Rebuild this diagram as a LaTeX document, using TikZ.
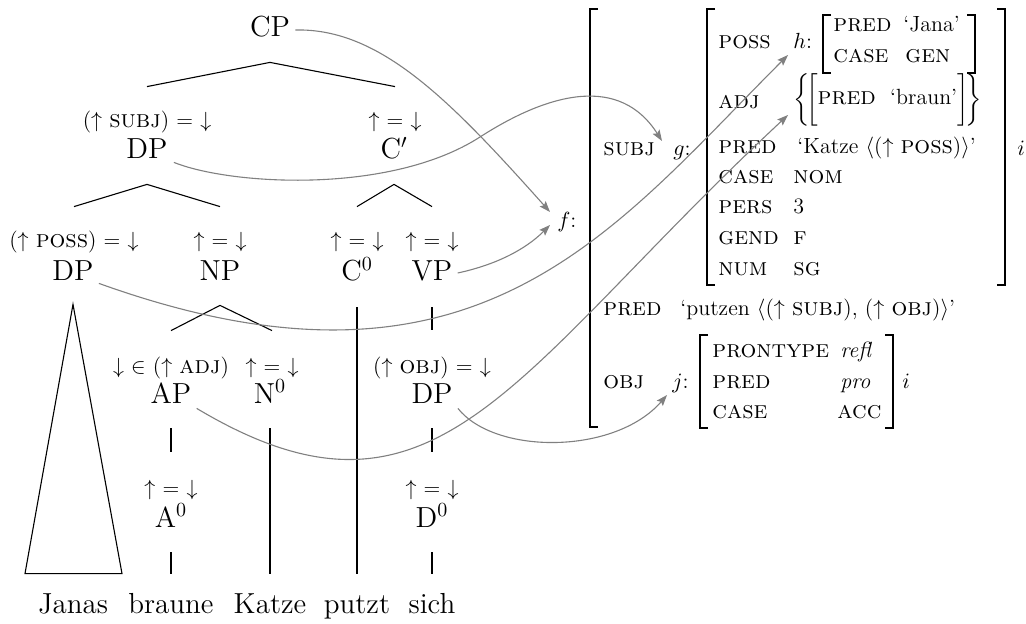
\documentclass[tikz,border=0pt]{standalone}
\usepackage{amsmath}
\usepackage{fontspec}
\usetikzlibrary{arrows.meta,calc}
\tikzset{
  cat/.style={font=\fontsize{14.5}{17}\selectfont, inner sep=0pt, text height=10pt, text depth=0pt, anchor=base},
  ann/.style={font=\fontsize{11}{13}\selectfont, inner sep=0pt, text height=8pt, text depth=2.5pt, anchor=base},
  word/.style={font=\fontsize{14.5}{17}\selectfont, inner sep=0pt, text height=10pt, text depth=3pt, anchor=base},
  avm/.style={font=\fontsize{11}{13}\selectfont, inner sep=0pt, anchor=base west},
  treeline/.style={line width=0.55pt},
  brk/.style={line width=1pt, line join=miter},
  fslink/.style={draw=gray, line width=0.55pt, -{Stealth[length=5.5pt,width=4pt,inset=1pt]}},
}
\newcommand{\fs}[1]{{\fontsize{12.4}{13}\selectfont\scshape #1}}
\newcommand{\up}{\ensuremath{\uparrow}}
\newcommand{\dn}{\ensuremath{\downarrow}}
\newcommand{\ueqd}{\up{} = \dn}
\begin{document}
\begin{tikzpicture}[x=0.5pt,y=-0.5pt]
\useasboundingbox (0,0) rectangle (1026,624);
% ---------- tree ----------
\node[cat] (cp) at (270,37) {CP};
\node[ann] (a-dp1) at (147,128) {(\up\ \fs{subj}) = \dn};
\node[cat] (dp1) at (147,159) {DP};
\node[ann] (a-cb) at (395,128) {\ueqd};
\node[cat] (cb) at (394,159) {C$'$};
\node[ann] (a-dp2) at (74,248) {(\up\ \fs{poss}) = \dn};
\node[cat] (dp2) at (73,281) {DP};
\node[ann] (a-np) at (220,248) {\ueqd};
\node[cat] (np) at (220,281) {NP};
\node[ann] (a-c0) at (357,248) {\ueqd};
\node[cat] (c0) at (357,281) {C$^0$};
\node[ann] (a-vp) at (432,248) {\ueqd};
\node[cat] (vp) at (432,281) {VP};
\node[ann] (a-ap) at (171,373) {\dn\ \(\in\) (\up\ \fs{adj})};
\node[cat] (ap) at (171,403) {AP};
\node[ann] (a-n0) at (272,373) {\ueqd};
\node[cat] (n0) at (270,403) {N$^0$};
\node[ann] (a-dp3) at (432,373) {(\up\ \fs{obj}) = \dn};
\node[cat] (dp3) at (432,403) {DP};
\node[ann] (a-a0) at (171,495) {\ueqd};
\node[cat] (a0) at (171,527) {A$^0$};
\node[ann] (a-d0) at (432,495) {\ueqd};
\node[cat] (d0) at (432,527) {D$^0$};
\node[word] (janas) at (73,613) {Janas};
\node[word] (braune) at (171,613) {braune};
\node[word] (katze) at (270,613) {Katze};
\node[word] (putzt) at (357,613) {putzt};
\node[word] (sich) at (432,613) {sich};
% branches
\draw[treeline] ($(a-dp1.north)+(0,-25)$) -- ($(cp.south)+(0,25)$) -- ($(a-cb.north)+(0,-25)$);
\draw[treeline] ($(a-dp2.north)+(0,-25)$) -- ($(dp1.south)+(0,25)$) -- ($(a-np.north)+(0,-25)$);
\draw[treeline] ($(a-c0.north)+(0,-25)$) -- ($(cb.south)+(0,25)$) -- ($(a-vp.north)+(0,-25)$);
\draw[treeline] ($(a-ap.north)+(0,-26)$) -- ($(np.south)+(0,24)$) -- ($(a-n0.north)+(0,-26)$);
\draw[treeline] ($(vp.south)+(0,26)$) -- ($(a-dp3.north)+(0,-27)$);
\draw[treeline] ($(c0.south)+(0,26)$) -- ($(putzt.north)+(0,-19)$);
\draw[treeline] ($(ap.south)+(0,25)$) -- ($(a-a0.north)+(0,-27)$);
\draw[treeline] ($(dp3.south)+(0,25)$) -- ($(a-d0.north)+(0,-27)$);
\draw[treeline] ($(n0.south)+(0,25)$) -- ($(katze.north)+(0,-19)$);
\draw[treeline] ($(a0.south)+(0,25)$) -- ($(braune.north)+(0,-19)$);
\draw[treeline] ($(d0.south)+(0,25)$) -- ($(sich.north)+(0,-19)$);
\draw[treeline] ($(dp2.south)+(0,23)$) -- ($(janas.north)+(-48,-19)$) -- ($(janas.north)+(49,-19)$) -- cycle;
% ---------- AVM ----------
\node[avm] (flab) at (557,228) {$f$:};
\draw[brk] (598,9) -- (590,9) -- (590,427) -- (598,427);
\node[avm] (subj) at (603,156) {\fs{subj}};
\node[avm] (glab) at (673,156) {$g$:};
\draw[brk] (715,9) -- (707,9) -- (707,285) -- (715,285);
\draw[brk] (997,9) -- (1005,9) -- (1005,285) -- (997,285);
\node[avm] (gi) at (1017,156) {$i$};
\node[avm] (poss) at (718,49) {\fs{poss}};
\node[avm] (hlab) at (793,49) {$h$:};
\draw[brk] (831,15) -- (823,15) -- (823,73) -- (831,73);
\draw[brk] (967,15) -- (975,15) -- (975,73) -- (967,73);
\node[avm] (hpred) at (833,32) {\fs{pred}};
\node[avm] (hjana) at (903,32) {`Jana'};
\node[avm] (hcase) at (833,63) {\fs{case}};
\node[avm] (hgen) at (905,63) {\fs{gen}};
\node[avm] (adj) at (718,109) {\fs{adj}};
\node[avm] (adjv) at (793,105) {\(\bigg\{\!\bigg[\)\fs{pred}\ \ `braun'\(\bigg]\!\bigg\}\)};
\node[avm] (gpred) at (718,154) {\fs{pred}};
\node[avm] (gpredv) at (797,154) {`Katze \(\langle\)(\up\ \fs{poss})\(\rangle\)'};
\node[avm] (gcase) at (718,184) {\fs{case}};
\node[avm] (gcasev) at (793,184) {\fs{nom}};
\node[avm] (gpers) at (718,214) {\fs{pers}};
\node[avm] (gpersv) at (793,214) {3};
\node[avm] (ggend) at (718,245) {\fs{gend}};
\node[avm] (ggendv) at (793,245) {\fs{f}};
\node[avm] (gnum) at (718,276) {\fs{num}};
\node[avm] (gnumv) at (793,276) {\fs{sg}};
\node[avm] (fpred) at (603,316) {\fs{pred}};
\node[avm] (fpredv) at (680,316) {`putzen \(\langle\)(\up\ \fs{subj}), (\up\ \fs{obj})\(\rangle\)'};
\node[avm] (obj) at (603,389) {\fs{obj}};
\node[avm] (jlab) at (672,389) {$j$:};
\draw[brk] (708,335) -- (700,335) -- (700,428) -- (708,428);
\draw[brk] (885,335) -- (893,335) -- (893,428) -- (885,428);
\node[avm] (ji) at (902,389) {$i$};
\node[avm] (jpt) at (712,358) {\fs{prontype}};
\node[avm] (jptv) at (840,358) {\textit{refl}};
\node[avm] (jpred) at (712,389) {\fs{pred}};
\node[avm] (jpredv) at (840,389) {\textit{pro}};
\node[avm] (jcase) at (712,418) {\fs{case}};
\node[avm] (jcasev) at (837,418) {\fs{acc}};
% ---------- links ----------
\draw[fslink] ($(cp.east)+(5,3)$) .. controls (380,28) and (450,100) .. ($(flab.base west)+(-7,-16)$);
\draw[fslink] ($(dp1.south east)+(6,3)$) .. controls (230,185) and (390,195) .. (480,137)
   .. controls (550,92) and (620,75) .. ($(glab.base west)+(-11,-15)$);
\draw[fslink] ($(vp.east)+(5,2)$) .. controls (495,265) and (525,250) .. ($(flab.base west)+(-7,-3)$);
\draw[fslink] ($(dp2.south east)+(5,2)$) .. controls (476,419) and (611,232) .. ($(hlab.base west)+(-5,6)$);
\draw[fslink] ($(ap.south east)+(5,5)$) .. controls (437,552) and (511,373) .. ($(adjv.base west)+(-5,10)$);
\draw[fslink] ($(dp3.south east)+(5,5)$) .. controls (495,455) and (615,455) .. ($(jlab.base west)+(-5,6)$);
\end{tikzpicture}
\end{document}
